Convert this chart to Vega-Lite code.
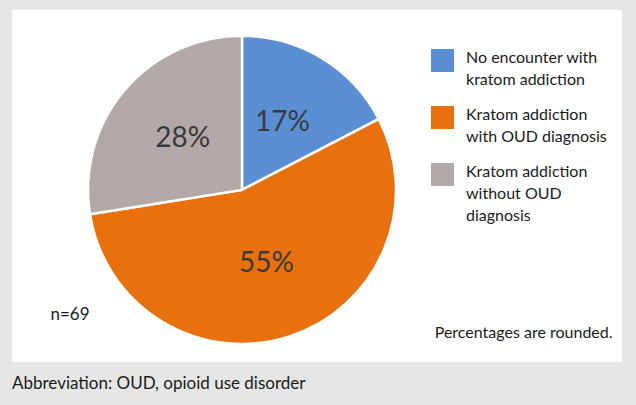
{
  "$schema": "https://vega.github.io/schema/vega-lite/v6.json",
  "width": 610,
  "height": 352,
  "autosize": "none",
  "padding": {"left": 12, "top": 10, "right": 14, "bottom": 43},
  "background": "#e6e6e6",
  "config": {
    "view": {"fill": "white", "stroke": null},
    "font": "Lato",
    "style": {"guide-label": {"lineHeight": 22, "dy": -11}}
  },
  "title": {
    "text": "Abbreviation: OUD, opioid use disorder",
    "orient": "bottom",
    "anchor": "start",
    "frame": "group",
    "offset": 14,
    "baseline": "top",
    "fontSize": 17,
    "fontWeight": "normal",
    "color": "#1a1a1a",
    "font": "Lato"
  },
  "data": {
    "values": [
      {"group": "No encounter with kratom addiction", "n": 12, "rank": 1, "label": "17%"},
      {"group": "Kratom addiction with OUD diagnosis", "n": 38, "rank": 2, "label": "55%"},
      {"group": "Kratom addiction without OUD diagnosis", "n": 19, "rank": 3, "label": "28%"}
    ]
  },
  "layer": [
    {
      "mark": {"type": "arc", "outerRadius": 154, "stroke": "white", "strokeWidth": 2.5},
      "encoding": {
        "x": {"datum": 37.7, "type": "quantitative", "scale": {"domain": [0, 100], "nice": false, "zero": false}, "axis": null},
        "y": {"datum": 48.9, "type": "quantitative", "scale": {"domain": [0, 100], "nice": false, "zero": false}, "axis": null},
        "theta": {"field": "n", "type": "quantitative", "stack": true},
        "order": {"field": "rank", "type": "quantitative"},
        "color": {
          "field": "group",
          "type": "nominal",
          "scale": {
            "domain": ["No encounter with kratom addiction", "Kratom addiction with OUD diagnosis", "Kratom addiction without OUD diagnosis"],
            "range": ["#5b8fd4", "#e8700f", "#b2a8a8"]
          },
          "legend": {
            "title": null,
            "orient": "none",
            "legendX": 419,
            "legendY": 39,
            "padding": 0,
            "symbolType": "square",
            "symbolSize": 529,
            "symbolStrokeWidth": 0,
            "symbolOpacity": 1,
            "labelFont": "Lato",
            "labelFontSize": 16,
            "labelColor": "#1a1a1a",
            "labelOffset": 12,
            "labelLimit": 300,
            "labelBaseline": "top",
            "rowPadding": 18,
            "labelExpr": "datum.label == 'No encounter with kratom addiction' ? ['No encounter with', 'kratom addiction'] : datum.label == 'Kratom addiction with OUD diagnosis' ? ['Kratom addiction', 'with OUD diagnosis'] : ['Kratom addiction', 'without OUD', 'diagnosis']"
          }
        }
      }
    },
    {
      "mark": {"type": "text", "radius": 78, "fontSize": 28, "color": "#3a3a3a", "font": "Lato"},
      "encoding": {
        "x": {"datum": 37.7, "type": "quantitative"},
        "y": {"datum": 48.9, "type": "quantitative"},
        "theta": {"field": "n", "type": "quantitative", "stack": true},
        "order": {"field": "rank", "type": "quantitative"},
        "text": {"field": "label"}
      }
    },
    {
      "data": {"values": [{"note": "n=69"}]},
      "mark": {"type": "text", "fontSize": 17, "color": "#1a1a1a", "font": "Lato"},
      "encoding": {
        "x": {"datum": 9.5, "type": "quantitative"},
        "y": {"datum": 13.4, "type": "quantitative"},
        "text": {"field": "note"}
      }
    },
    {
      "data": {"values": [{"note": "Percentages are rounded."}]},
      "mark": {"type": "text", "fontSize": 16, "align": "left", "color": "#1a1a1a", "font": "Lato"},
      "encoding": {
        "x": {"datum": 69.3, "type": "quantitative"},
        "y": {"datum": 8.2, "type": "quantitative"},
        "text": {"field": "note"}
      }
    }
  ]
}
